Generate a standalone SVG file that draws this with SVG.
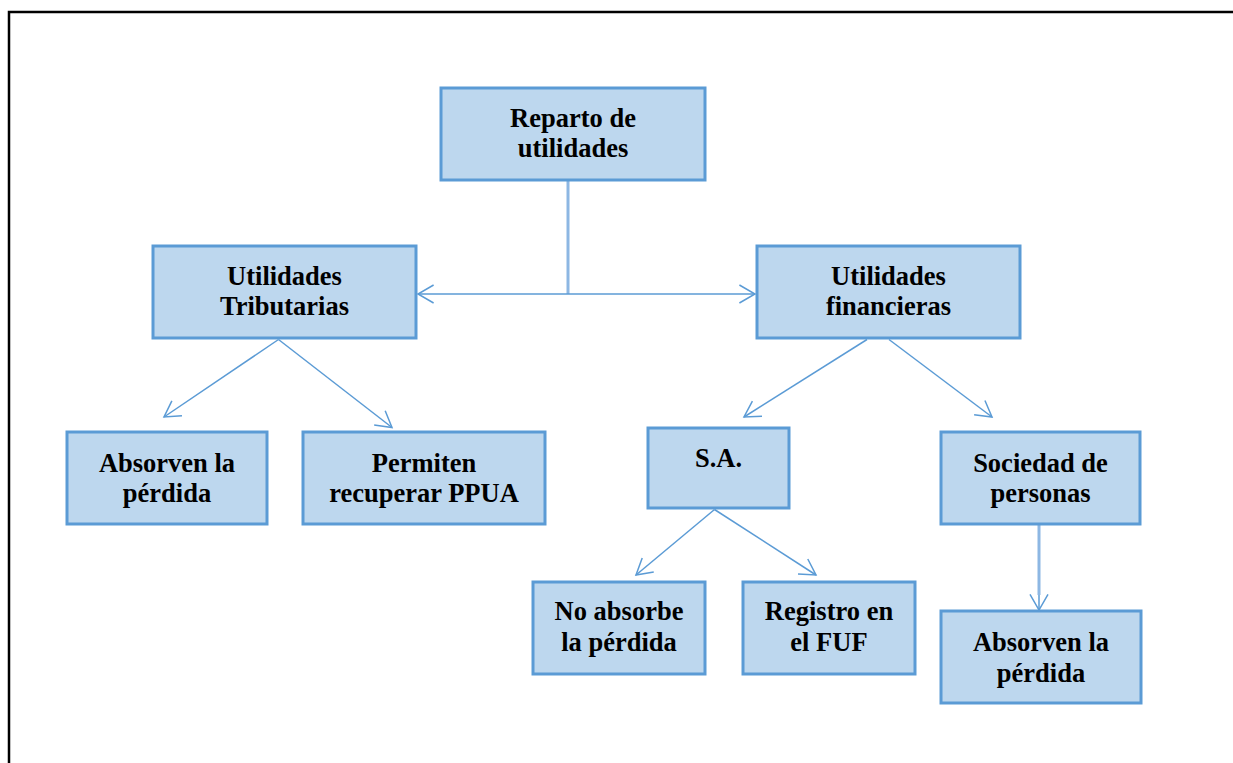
<svg xmlns="http://www.w3.org/2000/svg" width="1233" height="763" viewBox="0 0 1233 763">
<style>
.node rect{fill:#BDD7EE;stroke:#5B9BD5;stroke-width:3}
.node text{font-family:"Liberation Serif","Times New Roman",serif;font-weight:bold;font-size:26.5px;fill:#000;text-anchor:middle}
.conn{fill:none;stroke:#5B9BD5;stroke-width:1.5;marker-end:url(#arr)}
.trunk{fill:none;stroke:#8DB7E3;stroke-width:3}
</style>
<defs>
<marker id="arr" markerUnits="userSpaceOnUse" viewBox="-18 -10 20 20" refX="0" refY="0" markerWidth="20" markerHeight="20" orient="auto" overflow="visible">
<path d="M-15.6,-9 L0,0 L-15.6,9" fill="none" stroke="#5B9BD5" stroke-width="1.5"/>
</marker>
</defs>
<rect width="1233" height="763" fill="#fff"/>
<path d="M9,763 V12 H1233" fill="none" stroke="#000" stroke-width="2.5"/>
<g id="connectors">
<path class="trunk" d="M568,181 V294"/>
<path class="conn" d="M568,294 H418"/>
<path class="conn" d="M568,294 H755"/>
<path class="conn" d="M278.5,339.5 L164,417"/>
<path class="conn" d="M278.5,339.5 L392,427.5"/>
<path class="conn" d="M867,339.5 L744,417"/>
<path class="conn" d="M889,339.5 L992,417"/>
<path class="conn" d="M714.5,509.5 L636,575"/>
<path class="conn" d="M714.5,509.5 L816,575"/>
<path class="trunk" d="M1039,525 V595" stroke-width="2"/>
<path class="conn" d="M1039,595 V610"/>
</g>
<g id="n-reparto" class="node"><rect x="441" y="88" width="264" height="92"/><text x="573" y="126.7">Reparto de</text><text x="573" y="157.3">utilidades</text></g>
<g id="n-tributarias" class="node"><rect x="153" y="246" width="263" height="92"/><text x="284.5" y="284.7">Utilidades</text><text x="284.5" y="315.3">Tributarias</text></g>
<g id="n-financieras" class="node"><rect x="757" y="246" width="263" height="92"/><text x="888.5" y="284.7">Utilidades</text><text x="888.5" y="315.3">financieras</text></g>
<g id="n-absorven1" class="node"><rect x="67" y="432" width="200" height="92"/><text x="167" y="471.5">Absorven la</text><text x="167" y="501.7">pérdida</text></g>
<g id="n-permiten" class="node"><rect x="303" y="432" width="242" height="92"/><text x="424" y="471.5">Permiten</text><text x="424" y="501.7">recuperar PPUA</text></g>
<g id="n-sa" class="node"><rect x="648" y="428" width="141" height="80"/><text x="718.5" y="466.7">S.A.</text></g>
<g id="n-sociedad" class="node"><rect x="941" y="432" width="199" height="92"/><text x="1040.5" y="471.5">Sociedad de</text><text x="1040.5" y="501.7">personas</text></g>
<g id="n-noabsorbe" class="node"><rect x="533" y="582" width="172" height="92"/><text x="619" y="620">No absorbe</text><text x="619" y="650.7">la pérdida</text></g>
<g id="n-registro" class="node"><rect x="743" y="582" width="172" height="92"/><text x="829" y="620">Registro en</text><text x="829" y="650.7">el FUF</text></g>
<g id="n-absorven2" class="node"><rect x="941" y="611" width="200" height="92"/><text x="1041" y="650.7">Absorven la</text><text x="1041" y="681.7">pérdida</text></g>
</svg>
